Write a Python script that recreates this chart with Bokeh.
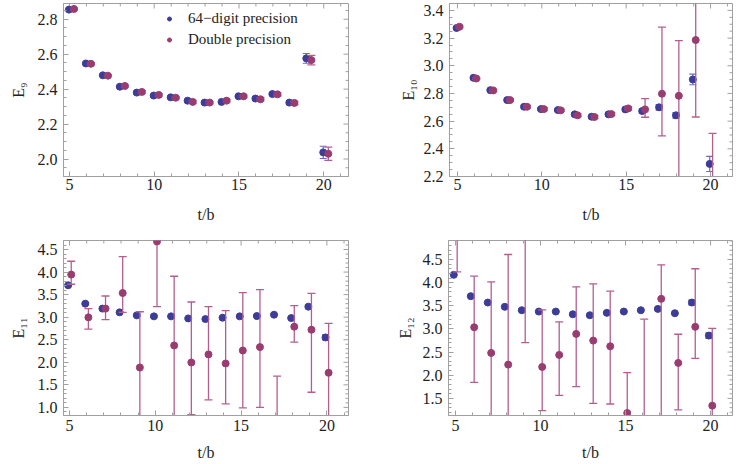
import math
from bokeh.plotting import figure
from bokeh.layouts import column, row
from bokeh.models import FixedTicker, Range1d, NumeralTickFormatter, Legend, LegendItem
from bokeh.embed import file_html
from bokeh.resources import INLINE

# ---------------- data ----------------
t = [5, 6, 7, 8, 9, 10, 11, 12, 13, 14, 15, 16, 17, 18, 19, 20]

e9_hp = [2.855, 2.547, 2.479, 2.414, 2.380, 2.363, 2.353, 2.334, 2.323, 2.327, 2.359, 2.346, 2.372, 2.323, 2.576, 2.038]
e9_hp_err = [0.006, 0.006, 0.006, 0.006, 0.007, 0.007, 0.006, 0.008, 0.007, 0.007, 0.007, 0.009, 0.008, 0.009, 0.028, 0.035]
e9_dp = [2.859, 2.545, 2.477, 2.418, 2.384, 2.367, 2.351, 2.327, 2.323, 2.334, 2.359, 2.342, 2.370, 2.321, 2.566, 2.030]
e9_dp_lo = [0.006, 0.006, 0.006, 0.006, 0.007, 0.007, 0.006, 0.008, 0.007, 0.007, 0.007, 0.009, 0.008, 0.009, 0.027, 0.038]
e9_dp_hi = [0.006, 0.006, 0.006, 0.006, 0.007, 0.007, 0.006, 0.008, 0.007, 0.007, 0.007, 0.009, 0.008, 0.009, 0.027, 0.038]

e10_hp = [3.273, 2.913, 2.824, 2.752, 2.704, 2.687, 2.680, 2.649, 2.632, 2.649, 2.685, 2.673, 2.700, 2.642, 2.901, 2.291]
e10_hp_err = [0.008, 0.006, 0.008, 0.008, 0.010, 0.010, 0.008, 0.010, 0.010, 0.010, 0.010, 0.014, 0.020, 0.020, 0.038, 0.055]
e10_dp = [3.282, 2.908, 2.822, 2.752, 2.704, 2.687, 2.678, 2.642, 2.630, 2.651, 2.692, 2.685, 2.798, 2.783, 3.186, 2.000]
e10_dp_lo = [0.008, 0.006, 0.008, 0.008, 0.010, 0.010, 0.008, 0.010, 0.010, 0.010, 0.010, 0.057, 0.305, 0.700, 0.556, 0.510]
e10_dp_hi = [0.008, 0.006, 0.008, 0.008, 0.010, 0.010, 0.008, 0.010, 0.010, 0.010, 0.010, 0.077, 0.482, 0.399, 0.556, 0.512]

e11_hp = [3.707, 3.300, 3.190, 3.107, 3.040, 3.018, 3.018, 2.973, 2.958, 2.988, 3.018, 3.025, 3.055, 2.980, 3.233, 2.551]
e11_hp_err = [0.015, 0.015, 0.020, 0.015, 0.020, 0.020, 0.015, 0.020, 0.020, 0.020, 0.015, 0.020, 0.015, 0.020, 0.035, 0.055]
e11_dp = [3.944, 2.996, 3.190, 3.536, 1.884, 4.680, 2.373, 1.996, 2.175, 1.973, 2.262, 2.336, 0.500, 2.789, 2.722, 1.767]
e11_dp_lo = [0.214, 0.260, 0.246, 0.429, 1.236, 1.447, 1.593, 1.156, 1.008, 0.895, 1.273, 1.336, 1.192, 0.342, 1.386, 1.095]
e11_dp_hi = [0.296, 0.194, 0.280, 0.808, 1.236, 1.447, 1.534, 1.340, 1.058, 1.171, 1.282, 1.275, 1.192, 0.467, 0.807, 1.095]

e12_hp = [4.169, 3.707, 3.570, 3.477, 3.404, 3.375, 3.375, 3.317, 3.296, 3.347, 3.375, 3.404, 3.433, 3.339, 3.570, 2.856]
e12_hp_err = [0.015, 0.015, 0.020, 0.015, 0.020, 0.020, 0.015, 0.020, 0.020, 0.020, 0.015, 0.020, 0.020, 0.020, 0.050, 0.058]
e12_dp = [5.500, 3.036, 2.482, 2.229, 5.000, 2.179, 2.439, 2.893, 2.748, 2.625, 1.184, 0.900, 3.650, 2.266, 3.045, 1.343]
e12_dp_lo = [1.267, 1.189, 1.540, 2.380, 2.295, 0.944, 0.874, 1.140, 1.355, 1.247, 0.870, 2.310, 2.600, 1.016, 0.680, 1.671]
e12_dp_hi = [1.267, 1.103, 1.535, 2.379, 2.295, 1.233, 0.714, 1.016, 1.226, 1.190, 0.872, 2.310, 0.735, 0.619, 1.255, 1.671]

series_names = ["64\u2212digit precision", "Double precision"]
x_label = "t/b"
y_labels = ["E\u2089", "E\u2081\u2080", "E\u2081\u2081", "E\u2081\u2082"]
x_ticks = [5, 10, 15, 20]
x_minor = [4, 6, 7, 8, 9, 11, 12, 13, 14, 16, 17, 18, 19, 21, 22]

# ---------------- style ----------------
BLUE = "#3d3d99"
BLUE_BAR = "#6b6bbd"
RED = "#993d71"
RED_BAR = "#b35f8e"
FRAME = "#a0a0a0"
FONT = "Liberation Serif"
MAJ, MIN = 5, 3


def style_axis(ax, label_standoff):
    ax.axis_line_color = FRAME
    ax.major_tick_line_color = FRAME
    ax.minor_tick_line_color = FRAME
    ax.major_tick_in = MAJ
    ax.major_tick_out = 0
    ax.minor_tick_in = MIN
    ax.minor_tick_out = 0
    ax.major_label_text_font = FONT
    ax.major_label_text_color = "#222222"
    ax.major_label_text_font_size = "16px"
    ax.major_label_standoff = label_standoff
    ax.axis_label_text_font = FONT
    ax.axis_label_text_font_style = "normal"
    ax.axis_label_text_font_size = "16px"
    ax.axis_label_text_color = "#222222"


def panel(hp, hp_err, dp, dp_lo, dp_hi, ylab, xr, yr, yticks, yminor, offs,
          width, height, borders, ylab_standoff, xtick_standoff, xlab_standoff, legend=False):
    left, right, top, bottom = borders
    p = figure(width=width, height=height, output_backend="svg", toolbar_location=None,
               x_range=Range1d(*xr), y_range=Range1d(*yr),
               min_border_left=left, min_border_right=right,
               min_border_top=top, min_border_bottom=bottom)
    p.grid.visible = False
    p.outline_line_color = FRAME
    p.background_fill_color = "white"
    p.border_fill_color = "white"

    p.xaxis.ticker = FixedTicker(ticks=x_ticks, minor_ticks=x_minor)
    p.yaxis.ticker = FixedTicker(ticks=yticks, minor_ticks=yminor)
    p.yaxis.formatter = NumeralTickFormatter(format="0.0")
    style_axis(p.xaxis[0], xtick_standoff)
    style_axis(p.yaxis[0], 6)
    p.xaxis.axis_label = x_label
    p.yaxis.axis_label = ylab
    p.xaxis.axis_label_standoff = xlab_standoff
    p.yaxis.axis_label_standoff = ylab_standoff

    # frame ticks on the top and right edges (inward, no labels)
    for vals, ln in ((x_ticks, MAJ), (x_minor, MIN)):
        p.ray(x=vals, y=[yr[1]] * len(vals), length=ln, angle=-math.pi / 2,
              length_units="screen", line_color=FRAME, line_width=1)
    for vals, ln in ((yticks, MAJ), (yminor, MIN)):
        p.ray(x=[xr[1]] * len(vals), y=vals, length=ln, angle=math.pi,
              length_units="screen", line_color=FRAME, line_width=1)

    xb = [v + offs[0] for v in t]
    xr_ = [v + offs[1] for v in t]
    hp_lo_v = [v - e for v, e in zip(hp, hp_err)]
    hp_hi_v = [v + e for v, e in zip(hp, hp_err)]
    dp_lo_v = [v - e for v, e in zip(dp, dp_lo)]
    dp_hi_v = [v + e for v, e in zip(dp, dp_hi)]

    p.segment(x0=xb, y0=hp_lo_v, x1=xb, y1=hp_hi_v, line_color=BLUE_BAR, line_width=1.2)
    p.scatter(x=xb + xb, y=hp_lo_v + hp_hi_v, marker="dash", size=7,
              line_color=BLUE_BAR, line_width=1.2)
    rb = p.scatter(x=xb, y=hp, size=7, fill_color=BLUE, line_color=BLUE)

    p.segment(x0=xr_, y0=dp_lo_v, x1=xr_, y1=dp_hi_v, line_color=RED_BAR, line_width=1.3)
    p.scatter(x=xr_ + xr_, y=dp_lo_v + dp_hi_v, marker="dash", size=8,
              line_color=RED_BAR, line_width=1.3)
    rr = p.scatter(x=xr_, y=dp, size=7, fill_color=RED, line_color=RED)

    if legend:
        lg = Legend(items=[LegendItem(label=series_names[0], renderers=[rb]),
                           LegendItem(label=series_names[1], renderers=[rr])],
                    location=(101, 126), orientation="vertical")
        lg.padding = 0
        lg.margin = 0
        lg.spacing = 0
        lg.label_height = 21
        lg.glyph_height = 21
        lg.glyph_width = 10
        lg.label_standoff = 14
        lg.label_text_font = FONT
        lg.label_text_font_size = "15px"
        lg.label_text_color = "#222222"
        lg.border_line_alpha = 0
        lg.background_fill_alpha = 0
        p.add_layout(lg)
    return p


minor_02 = [1.85, 1.9, 1.95, 2.05, 2.1, 2.15, 2.25, 2.3, 2.35, 2.45, 2.5, 2.55, 2.65, 2.7, 2.75,
            2.85, 2.9, 2.95, 3.05, 3.1, 3.15, 3.25, 3.3, 3.35, 3.45, 3.5]
minor_05 = [0.6, 0.7, 0.8, 0.9, 1.1, 1.2, 1.3, 1.4, 1.6, 1.7, 1.8, 1.9, 2.1, 2.2, 2.3, 2.4,
            2.6, 2.7, 2.8, 2.9, 3.1, 3.2, 3.3, 3.4, 3.6, 3.7, 3.8, 3.9, 4.1, 4.2, 4.3, 4.4,
            4.6, 4.7, 4.8, 4.9]

p1 = panel(e9_hp, e9_hp_err, e9_dp, e9_dp_lo, e9_dp_hi, y_labels[0],
           (4.65, 21.46), (1.90, 2.89), [2.0, 2.2, 2.4, 2.6, 2.8], minor_02,
           (-0.03, 0.27), 370, 230, (63, 22, 3, 54), 8, 2, 13, legend=True)
p2 = panel(e10_hp, e10_hp_err, e10_dp, e10_dp_lo, e10_dp_hi, y_labels[1],
           (4.53, 21.3), (2.2, 3.45), [2.2, 2.4, 2.6, 2.8, 3.0, 3.2, 3.4], minor_02,
           (-0.05, 0.12), 376, 230, (79, 14, 3, 54), 4, 2, 13)
p3 = panel(e11_hp, e11_hp_err, e11_dp, e11_dp_lo, e11_dp_hi, y_labels[2],
           (4.65, 21.26), (0.82, 4.7), [1.0, 1.5, 2.0, 2.5, 3.0, 3.5, 4.0, 4.5], minor_05,
           (-0.08, 0.1), 370, 233, (63, 22, 10, 48), 8, 4, 10)
p4 = panel(e12_hp, e12_hp_err, e12_dp, e12_dp_lo, e12_dp_hi, y_labels[3],
           (4.59, 21.29), (1.13, 4.91), [1.5, 2.0, 2.5, 3.0, 3.5, 4.0, 4.5], minor_05,
           (-0.1, 0.1), 376, 233, (78, 14, 10, 48), 6, 4, 10)

layout = column(row(p1, p2), row(p3, p4))
open("out.html", "w").write(file_html(layout, INLINE))
